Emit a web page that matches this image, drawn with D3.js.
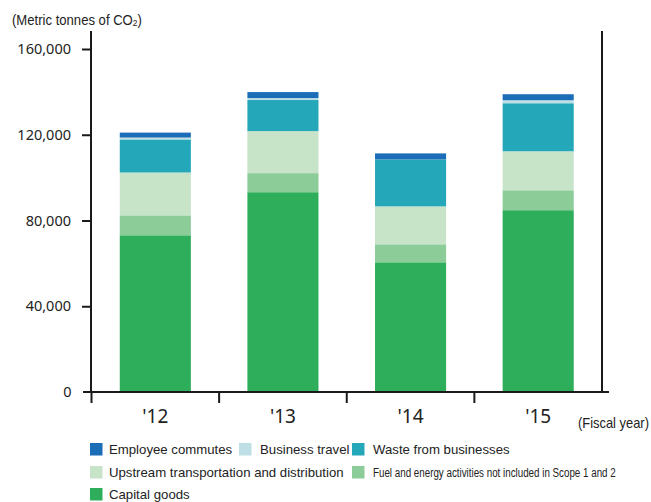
<!DOCTYPE html>
<html>
<head>
<meta charset="utf-8">
<script src="https://cdn.jsdelivr.net/npm/d3@7"></script>
<style>
  html, body { margin: 0; padding: 0; background: #fff; }
  svg { display: block; }
</style>
</head>
<body>
<svg id="chart" width="651" height="502"></svg>
<script>
const years = ["'12", "'13", "'14", "'15"];
const capitalGoods = [73100, 93200, 60500, 84800];
const fuelEnergy = [9300, 8900, 8400, 9300];
const upstreamTransport = [20000, 19600, 17700, 18200];
const wasteFromBusinesses = [15400, 14500, 21900, 22400];
const businessTravel = [900, 900, 0, 1400];
const employeeCommutes = [2300, 2800, 2800, 2800];
const yTicks = [0, 40000, 80000, 120000, 160000];

const seriesNames = ["Capital goods", "Fuel and energy activities not included in Scope 1 and  2",
  "Upstream transportation and distribution", "Waste from businesses", "Business travel", "Employee commutes"];
const seriesValues = [capitalGoods, fuelEnergy, upstreamTransport, wasteFromBusinesses, businessTravel, employeeCommutes];
const colors = ["#2eae5a", "#8ccc98", "#c7e4c9", "#24a7b8", "#bfdfe6", "#1b6db8"];

const rows = years.map((y, i) => {
  const r = { year: y };
  seriesNames.forEach((s, k) => r[s] = seriesValues[k][i]);
  return r;
});
const stacked = d3.stack().keys(seriesNames)(rows);

const svg = d3.select("#chart");
const x = d3.scaleBand().domain(years).range([91.5, 602]).padding(0);
const y = d3.scaleLinear().domain([0, 160000]).range([392, 49]);
const barW = x.bandwidth() * 0.557;
const axisColor = "#1a1a1a";
const narrowFont = "'Liberation Sans', Arial, sans-serif";

// place a text at (px, baseline py) squeezed horizontally to width w
function narrowText(parent, px, py, w, size, build) {
  const g = parent.append("g");
  const t = g.append("text").attr("x", 0).attr("y", 0)
    .attr("font-family", narrowFont).attr("font-size", size).attr("fill", "#222");
  build(t);
  const nat = t.node().getComputedTextLength();
  g.attr("transform", `translate(${px},${py}) scale(${w / nat},1)`);
  return g;
}

// bars
svg.append("g").selectAll("g").data(stacked).join("g")
  .attr("fill", (d, i) => colors[i])
  .selectAll("rect").data(d => d).join("rect")
  .attr("x", d => x(d.data.year) + (x.bandwidth() - barW) / 2)
  .attr("width", barW)
  .attr("y", d => y(d[1]))
  .attr("height", d => Math.max(0, y(d[0]) - y(d[1])));

// left axis
const yAxis = svg.append("g").attr("transform", "translate(91,0)")
  .call(d3.axisLeft(y).tickValues(yTicks.filter(v => v > 0)).tickSize(9).tickPadding(11)
    .tickFormat(d3.format(",")));
yAxis.select(".domain").remove();
yAxis.selectAll(".tick line").attr("stroke", axisColor).attr("stroke-width", 2);
yAxis.selectAll(".tick text").attr("font-family", "'Noto Sans', sans-serif")
  .attr("font-size", 14.5).attr("fill", "#222");
svg.append("text").attr("x", 71.5).attr("y", y(0)).attr("dy", "0.35em")
  .attr("text-anchor", "end").attr("font-family", "'Noto Sans', sans-serif")
  .attr("font-size", 14.5).attr("fill", "#222").text(yTicks[0]);

// vertical lines
svg.append("line").attr("x1", 91).attr("x2", 91).attr("y1", 31).attr("y2", 392)
  .attr("stroke", axisColor).attr("stroke-width", 2);
svg.append("line").attr("x1", 602).attr("x2", 602).attr("y1", 31).attr("y2", 392)
  .attr("stroke", axisColor).attr("stroke-width", 2);

// bottom axis
const xAxis = svg.append("g").attr("transform", `translate(0,${y(0)})`)
  .call(d3.axisBottom(x).tickSize(0).tickPadding(18));
xAxis.select(".domain").remove();
xAxis.selectAll(".tick text").attr("font-family", "'Noto Sans', sans-serif")
  .attr("font-size", 19).attr("fill", "#222");
svg.append("line").attr("x1", 83).attr("x2", 609).attr("y1", y(0)).attr("y2", y(0))
  .attr("stroke", axisColor).attr("stroke-width", 2);
svg.append("g").selectAll("line").data(years).join("line")
  .attr("x1", d => x(d)).attr("x2", d => x(d))
  .attr("y1", y(0)).attr("y2", y(0) + 11)
  .attr("stroke", axisColor).attr("stroke-width", 2);

// titles
narrowText(svg, 12, 25, 130, 14, t => {
  t.append("tspan").text("(Metric tonnes of CO");
  t.append("tspan").attr("font-size", 9).attr("dy", 1).text("2");
  t.append("tspan").attr("dy", -1).text(")");
});
narrowText(svg, 578, 428, 71, 14, t => t.text("(Fiscal year)"));

// legend
const legendItems = [
  { k: 5, x: 90, y: 443 },
  { k: 4, x: 239, y: 443 },
  { k: 3, x: 352, y: 443 },
  { k: 2, x: 90, y: 466 },
  { k: 1, x: 352, y: 466, tw: 243 },
  { k: 0, x: 90, y: 488 }
];
const lg = svg.append("g");
legendItems.forEach(d => {
  lg.append("rect").attr("x", d.x).attr("y", d.y).attr("width", 12.5).attr("height", 12.5)
    .attr("fill", colors[d.k]);
  const tx = d.x + (d.x === 90 ? 19 : 21);
  if (d.tw) {
    narrowText(lg, tx, d.y + 11.2, d.tw, 13.5, t => t.text(seriesNames[d.k]));
  } else {
    lg.append("text").attr("x", tx).attr("y", d.y + 11.2)
      .attr("font-family", narrowFont).attr("font-size", 13.2).attr("fill", "#222")
      .text(seriesNames[d.k]);
  }
});
</script>
</body>
</html>
